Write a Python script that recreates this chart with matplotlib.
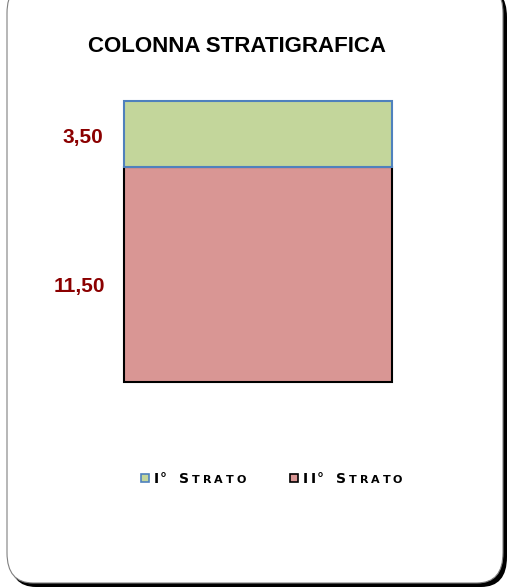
import matplotlib
matplotlib.use('Agg')
import matplotlib.pyplot as plt
from matplotlib.patches import FancyBboxPatch, Rectangle
from matplotlib.transforms import offset_copy

# dati della colonna
strati = ['I° Strato', 'II° Strato']
spessori = [3.50, 11.50]
colori = ['#C3D69B', '#D99694']
bordi = ['#4F81BD', '#000000']
etichette = ['3,50', '11,50']

W, H = 507, 588
fig = plt.figure(figsize=(W / 100, H / 100), dpi=100)

def px(x, y):
    # pixel (origin top-left) -> figure coords
    return x / W, 1 - y / H

# shadow + rounded frame
r = 26
sh = FancyBboxPatch((10 / W, 1 - 587 / H), 497 / W, 600 / H,
                    boxstyle='round,pad=0,rounding_size=%f' % (r / W),
                    transform=fig.transFigure, fc='black', ec='none', zorder=0)
fig.patches.append(sh)
fr = FancyBboxPatch((7 / W, 1 - 583 / H), 496 / W, 600 / H,
                    boxstyle='round,pad=0,rounding_size=%f' % (r / W),
                    transform=fig.transFigure, fc='white', ec='#808080', lw=0.8, zorder=1)
fig.patches.append(fr)

ax = fig.add_axes([124 / W, 1 - 382 / H, (392 - 124) / W, (382 - 101) / H], zorder=5)
ax.set_facecolor('none')
base = 0
spost = [-9, -18]   # label nudge in pixels, as in the excel export
for i, (nome, s, c, e, lab) in enumerate(zip(strati, spessori, colori, bordi, etichette)):
    b = ax.bar(0, s, bottom=base, width=1.0, color=c, edgecolor=e, linewidth=1.5,
               label=nome, zorder=3 - i)
    for p in b:
        p.set_clip_on(False)
    tr = offset_copy(ax.transData, fig=fig, x=0, y=spost[i] * 72 / 100, units='points')
    ax.text(-0.578 + 0.008 * i, base + s / 2, lab, ha='right', va='baseline', color='#8B0000',
            fontsize=15, fontweight='bold', family='Liberation Sans', clip_on=False,
            transform=tr)
    base += s
ax.set_xlim(-0.5, 0.5)
ax.set_ylim(sum(spessori), 0)
ax.axis('off')

fig.text(*px(237, 46), 'COLONNA STRATIGRAFICA', ha='center', va='center',
         fontsize=16, fontweight='bold', family='Liberation Sans', zorder=6)

# legend, letters placed one by one to fake the wide small caps font
def maiuscoletto(x, y, testo):
    fig.canvas.draw()
    for i, ch in enumerate(testo):
        piccola = ch.isalpha() and ch.islower()
        t = fig.text(x / W, 1 - y / H, ch.upper(), ha='left', va='baseline',
                     fontsize=8 if piccola else 10, fontweight='bold',
                     family='DejaVu Sans', zorder=6)
        fig.canvas.draw()
        bb = t.get_window_extent()
        if ch == ' ':
            x += 10
        elif ch == 'I' and i + 1 < len(testo) and testo[i + 1] == '°':
            x += bb.width + 0.5
        else:
            x += bb.width + 2.8

leg_x = [141, 290]
ly = 478
for nome, c, e, x0 in zip(strati, colori, bordi, leg_x):
    fig.patches.append(Rectangle(px(x0, ly + 4), 8 / W, 8 / H, transform=fig.transFigure,
                                 fc=c, ec=e, lw=1.2, zorder=6))
    maiuscoletto(x0 + 13, ly + 5, nome)

fig.savefig('out.png', dpi=100)
